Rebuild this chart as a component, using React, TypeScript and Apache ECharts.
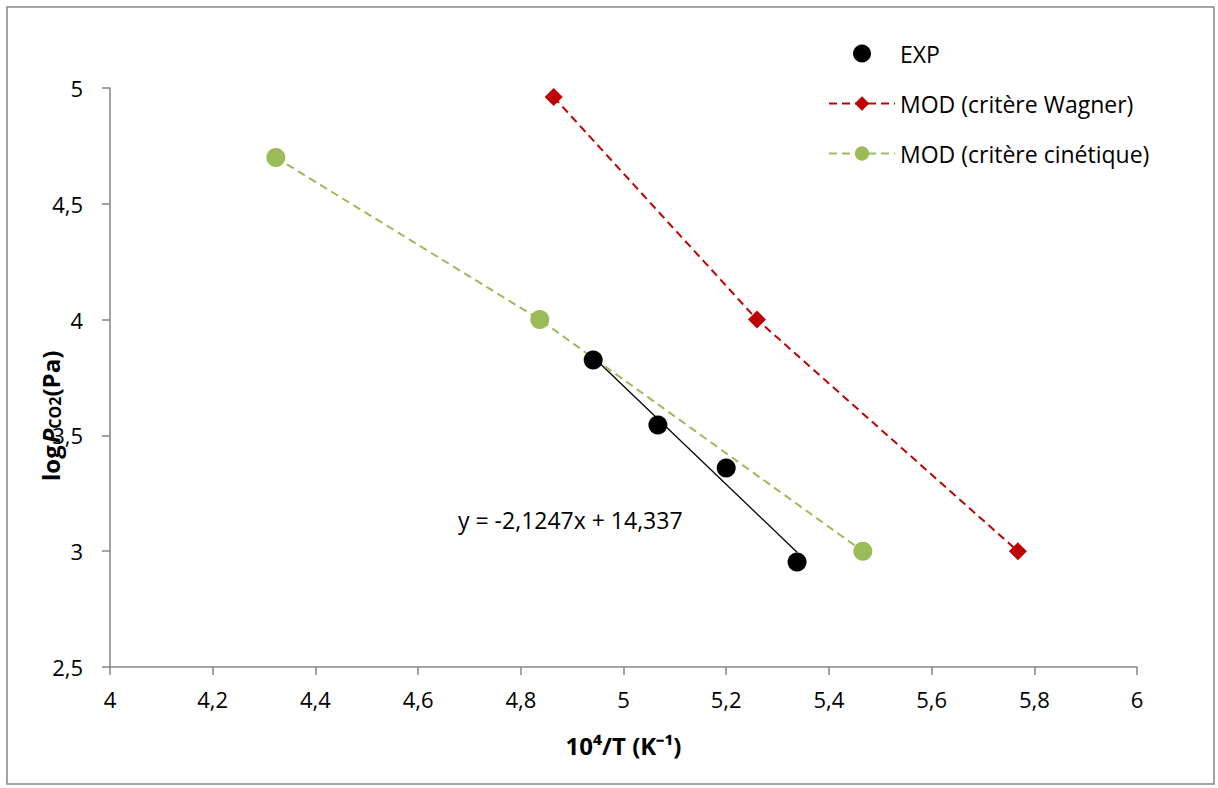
import React, { useEffect, useRef } from "react";
import * as echarts from "echarts";

const expX = [4.941, 5.067, 5.2, 5.338];
const expY = [3.826, 3.545, 3.359, 2.953];
const wagnerX = [4.864, 5.26, 5.768];
const wagnerY = [4.961, 4.0, 3.0];
const cinX = [4.323, 4.837, 5.466];
const cinY = [4.7, 4.0, 3.0];
const trendSlope = -2.1247;
const trendIntercept = 14.337;
const xTicks = [4, 4.2, 4.4, 4.6, 4.8, 5, 5.2, 5.4, 5.6, 5.8, 6];
const yTicks = [2.5, 3, 3.5, 4, 4.5, 5];

const FONT = "'Open Sans', 'Liberation Sans', sans-serif";
const fmt = (v: number) => String(Math.round(v * 10) / 10).replace(".", ",");

export default function App() {
  const ref = useRef<HTMLDivElement>(null);
  useEffect(() => {
    const chart = echarts.init(ref.current!, null, { renderer: "svg" });
    const xs = [expX[0], expX[expX.length - 1]];
    const trend = xs.map((x) => [x, trendSlope * x + trendIntercept]);
    chart.setOption({
      animation: false,
      backgroundColor: "#fff",
      textStyle: { fontFamily: FONT },
      grid: { left: 110, right: 81, top: 88, bottom: 121, containLabel: false },
      xAxis: {
        type: "value",
        min: 4,
        max: 6,
        interval: 0.2,
        splitLine: { show: false },
        axisLine: { lineStyle: { color: "#868686", width: 1.5 } },
        axisTick: { show: true, length: 8, lineStyle: { color: "#868686", width: 1.5 } },
        axisLabel: { color: "#000", fontSize: 22, margin: 21, formatter: fmt },
        name: "10⁴/T (K⁻¹)",
        nameLocation: "middle",
        nameGap: 66,
        nameTextStyle: { color: "#000", fontSize: 24, fontWeight: "bold" },
      },
      yAxis: {
        type: "value",
        min: 2.5,
        max: 5,
        interval: 0.5,
        splitLine: { show: false },
        axisLine: { show: true, lineStyle: { color: "#868686", width: 1.5 } },
        axisTick: { show: true, length: 8, lineStyle: { color: "#868686", width: 1.5 } },
        axisLabel: { color: "#000", fontSize: 22, margin: 27, formatter: fmt },
      },
      legend: {
        orient: "vertical",
        left: 823,
        top: 37,
        itemWidth: 66,
        itemHeight: 18,
        itemGap: 27,
        textStyle: { fontSize: 23, color: "#000", fontFamily: FONT },
        data: [
          { name: "EXP", icon: "circle", itemStyle: { color: "#000", opacity: 1 } },
          { name: "MOD (critère Wagner)" },
          { name: "MOD (critère cinétique)" },
        ],
      },
      graphic: [
        {
          type: "rect",
          shape: { x: 7, y: 7, width: 1207, height: 777 },
          style: { fill: "none", stroke: "#868686", lineWidth: 1.5 },
          silent: true,
        },
        {
          type: "text",
          x: 458,
          y: 508,
          style: { text: "y = -2,1247x + 14,337", fontSize: 23, fill: "#000", fontFamily: FONT },
        },
        {
          type: "text",
          x: 38,
          y: 481,
          rotation: Math.PI / 2,
          z: 100,
          style: {
            text: "{b|log}{bi|P}{s|CO2}{b|(Pa)}",
            fill: "#000",
            fontFamily: FONT,
            rich: {
              b: { fontSize: 24, fontWeight: "bold", fontFamily: FONT, fill: "#000" },
              bi: { fontSize: 24, fontWeight: "bold", fontStyle: "italic", fontFamily: FONT, fill: "#000", padding: [0, 0, 0, 2] },
              s: { fontSize: 16, fontWeight: "bold", fontFamily: FONT, fill: "#000", verticalAlign: "bottom", padding: [9, 0, 0, 0] },
            },
          },
        },
      ],
      series: [
        {
          name: "trend",
          type: "line",
          data: trend,
          symbol: "none",
          lineStyle: { color: "#000", width: 1.3 },
          z: 1,
        },
        {
          name: "MOD (critère cinétique)",
          type: "line",
          data: cinX.map((x, i) => [x, cinY[i]]),
          symbol: "circle",
          symbolSize: 19,
          lineStyle: { color: "#9BBB59", width: 2, type: [8, 5] },
          itemStyle: { color: "#9BBB59", opacity: 1 },
          z: 2,
        },
        {
          name: "MOD (critère Wagner)",
          type: "line",
          data: wagnerX.map((x, i) => [x, wagnerY[i]]),
          symbol: "diamond",
          symbolSize: 18,
          lineStyle: { color: "#C00000", width: 2, type: [8, 5] },
          itemStyle: { color: "#C00000", opacity: 1 },
          z: 3,
        },
        {
          name: "EXP",
          type: "scatter",
          data: expX.map((x, i) => [x, expY[i]]),
          symbol: "circle",
          symbolSize: 19,
          itemStyle: { color: "#000", opacity: 1 },
          z: 4,
        },
      ],
    });
    return () => chart.dispose();
  }, []);
  return (
    <div
      ref={ref}
      style={{ position: "fixed", left: 0, top: 0, width: 1218, height: 788 }}
    />
  );
}
